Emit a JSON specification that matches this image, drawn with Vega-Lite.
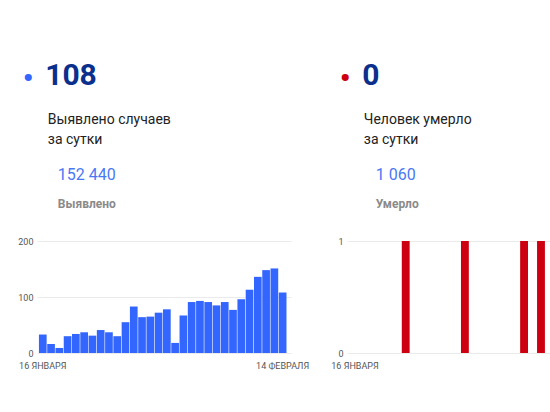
{
  "$schema": "https://vega.github.io/schema/vega-lite/v6.json",
  "padding": {"top": 61, "left": 17, "right": 0, "bottom": 0},
  "background": "white",
  "spacing": 21,
  "config": {
    "font": "Roboto",
    "view": {"stroke": null},
    "concat": {"spacing": 0},
    "axis": {"labelFont": "Roboto", "labelFontSize": 9, "labelColor": "#555555", "gridColor": "#ebebeb", "domain": false, "ticks": false, "title": null},
    "title": {"anchor": "start", "font": "Roboto"}
  },
  "datasets": {
    "cases": [
      {"date": "2022-01-16", "cases": 33}, {"date": "2022-01-17", "cases": 16}, {"date": "2022-01-18", "cases": 9},
      {"date": "2022-01-19", "cases": 30}, {"date": "2022-01-20", "cases": 34}, {"date": "2022-01-21", "cases": 37},
      {"date": "2022-01-22", "cases": 31}, {"date": "2022-01-23", "cases": 41}, {"date": "2022-01-24", "cases": 37},
      {"date": "2022-01-25", "cases": 30}, {"date": "2022-01-26", "cases": 55}, {"date": "2022-01-27", "cases": 83},
      {"date": "2022-01-28", "cases": 64}, {"date": "2022-01-29", "cases": 65}, {"date": "2022-01-30", "cases": 72},
      {"date": "2022-01-31", "cases": 78}, {"date": "2022-02-01", "cases": 18}, {"date": "2022-02-02", "cases": 67},
      {"date": "2022-02-03", "cases": 91}, {"date": "2022-02-04", "cases": 93}, {"date": "2022-02-05", "cases": 91},
      {"date": "2022-02-06", "cases": 85}, {"date": "2022-02-07", "cases": 91}, {"date": "2022-02-08", "cases": 77},
      {"date": "2022-02-09", "cases": 96}, {"date": "2022-02-10", "cases": 113}, {"date": "2022-02-11", "cases": 136},
      {"date": "2022-02-12", "cases": 148}, {"date": "2022-02-13", "cases": 151}, {"date": "2022-02-14", "cases": 108}
    ],
    "deaths": [
      {"date": "2022-01-16", "deaths": 0}, {"date": "2022-01-17", "deaths": 0}, {"date": "2022-01-18", "deaths": 0},
      {"date": "2022-01-19", "deaths": 0}, {"date": "2022-01-20", "deaths": 0}, {"date": "2022-01-21", "deaths": 0},
      {"date": "2022-01-22", "deaths": 1}, {"date": "2022-01-23", "deaths": 0}, {"date": "2022-01-24", "deaths": 0},
      {"date": "2022-01-25", "deaths": 0}, {"date": "2022-01-26", "deaths": 0}, {"date": "2022-01-27", "deaths": 0},
      {"date": "2022-01-28", "deaths": 0}, {"date": "2022-01-29", "deaths": 1}, {"date": "2022-01-30", "deaths": 0},
      {"date": "2022-01-31", "deaths": 0}, {"date": "2022-02-01", "deaths": 0}, {"date": "2022-02-02", "deaths": 0},
      {"date": "2022-02-03", "deaths": 0}, {"date": "2022-02-04", "deaths": 0}, {"date": "2022-02-05", "deaths": 1},
      {"date": "2022-02-06", "deaths": 0}, {"date": "2022-02-07", "deaths": 1}
    ]
  },
  "hconcat": [
    {
      "title": {"text": "•", "color": "#3366ff", "fontSize": 30, "dx": 5, "offset": 16, "subtitle": "\u200b\u00a0\u00a0\u00a0108", "subtitleColor": "#0b2f8c", "subtitleFont": "Roboto", "subtitleFontSize": 30, "subtitleFontWeight": "bold", "subtitlePadding": -33},
      "vconcat": [
        {
          "title": {"text": ["Выявлено случаев", "за сутки"], "fontSize": 14, "fontWeight": "normal", "color": "#222222", "lineHeight": 20, "dx": 30, "offset": 20},
          "vconcat": [
            {
              "title": {"text": "152 440", "fontSize": 16, "fontWeight": "normal", "color": "#4a78f5", "dx": 40, "offset": 27, "subtitle": "Выявлено", "subtitleColor": "#8a8a8a", "subtitleFont": "Roboto", "subtitleFontSize": 12, "subtitleFontWeight": "bold", "subtitlePadding": 16},
              "data": {"name": "cases"},
              "width": 254,
              "height": 112,
              "mark": {"type": "bar", "color": "#3366ff"},
              "encoding": {
                "x": {"field": "date", "type": "ordinal", "sort": null,
                      "scale": {"paddingInner": 0.07, "paddingOuter": 0.39, "align": 0.3},
                      "axis": {"values": ["2022-01-16", "2022-02-14"], "labelAngle": 0, "labelPadding": 8, "grid": false,
                               "labelExpr": "datum.value == '2022-01-16' ? '16 ЯНВАРЯ' : '14 ФЕВРАЛЯ'"}},
                "y": {"field": "cases", "type": "quantitative", "scale": {"domain": [0, 200]},
                      "axis": {"values": [0, 100, 200], "labelPadding": 4}}
              }
            }
          ]
        }
      ]
    },
    {
      "title": {"text": "•", "color": "#cc0011", "fontSize": 30, "dx": 9, "offset": 16, "subtitle": "\u200b\u00a0\u00a0\u00a00", "subtitleColor": "#0b2f8c", "subtitleFont": "Roboto", "subtitleFontSize": 30, "subtitleFontWeight": "bold", "subtitlePadding": -33},
      "vconcat": [
        {
          "title": {"text": ["Человек умерло", "за сутки"], "fontSize": 14, "fontWeight": "normal", "color": "#222222", "lineHeight": 20, "dx": 33, "offset": 20},
          "vconcat": [
            {
              "title": {"text": "1 060", "fontSize": 16, "fontWeight": "normal", "color": "#4a78f5", "dx": 45, "offset": 27, "subtitle": "Умерло", "subtitleColor": "#8a8a8a", "subtitleFont": "Roboto", "subtitleFontSize": 12, "subtitleFontWeight": "bold", "subtitlePadding": 16},
              "data": {"name": "deaths"},
              "width": 204,
              "height": 112,
              "mark": {"type": "bar", "color": "#cc0011"},
              "encoding": {
                "x": {"field": "date", "type": "ordinal", "sort": null,
                      "scale": {"paddingInner": 0.07, "paddingOuter": 0.6, "align": 0.4},
                      "axis": {"values": ["2022-01-16"], "labelAngle": 0, "labelPadding": 8, "grid": false,
                               "labelExpr": "'16 ЯНВАРЯ'"}},
                "y": {"field": "deaths", "type": "quantitative", "scale": {"domain": [0, 1]},
                      "axis": {"values": [0, 0.5, 1], "format": "d", "labelPadding": 4, "labelExpr": "datum.value == 0.5 ? '' : datum.label"}}
              }
            }
          ]
        }
      ]
    }
  ]
}
